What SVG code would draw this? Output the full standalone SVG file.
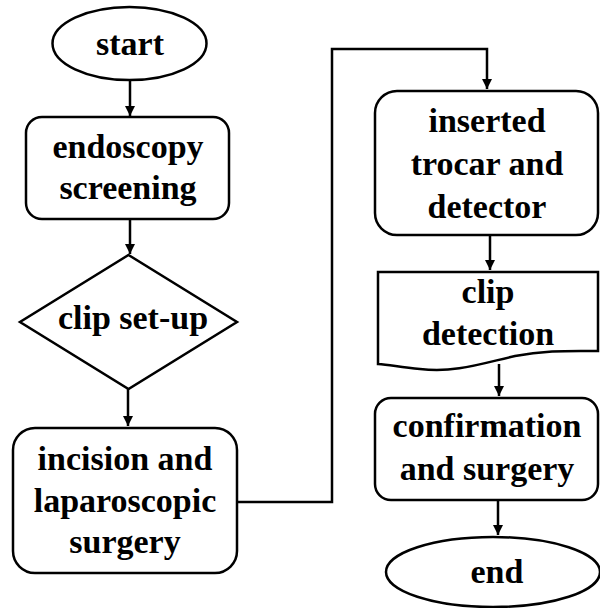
<svg xmlns="http://www.w3.org/2000/svg" width="600" height="608" viewBox="0 0 600 608">
<defs>
<marker id="ah" viewBox="0 0 10 10" refX="10" refY="5" markerWidth="10" markerHeight="10" markerUnits="userSpaceOnUse" orient="auto">
<path d="M0,0 L10,5 L0,10 z" fill="#000"/>
</marker>
<style>
.s{fill:#fff;stroke:#000;stroke-width:2.5}
.t{font-family:"Liberation Serif","Times New Roman",serif;font-weight:bold;font-size:34px;text-anchor:middle;fill:#000}
.c{fill:none;stroke:#000;stroke-width:2.5;marker-end:url(#ah)}
</style>
</defs>
<rect width="600" height="608" fill="#fff"/>
<g id="connectors">
<path class="c" d="M130,80 V116"/>
<path class="c" d="M130,219 V254"/>
<path class="c" d="M128,389 V426"/>
<path class="c" d="M237,502 H332 V49 H487 V89"/>
<path class="c" d="M490,235 V270"/>
<path class="c" d="M499,364 V396"/>
<path class="c" d="M498,500 V535"/>
</g>
<g id="start">
<ellipse class="s" cx="129.5" cy="43.5" rx="77" ry="36.5"/>
<text class="t" x="130" y="55">start</text>
</g>
<g id="endoscopy">
<rect class="s" x="26" y="117" width="203" height="102" rx="16"/>
<text class="t" x="128" y="158">endoscopy</text>
<text class="t" x="128" y="199">screening</text>
</g>
<g id="clipsetup">
<polygon class="s" points="128.5,255 237,322 128.5,389 20,322"/>
<text class="t" x="133" y="329">clip set-up</text>
</g>
<g id="incision">
<rect class="s" x="13" y="428" width="224" height="145" rx="22"/>
<text class="t" x="125" y="470">incision and</text>
<text class="t" x="125" y="512">laparoscopic</text>
<text class="t" x="125" y="553">surgery</text>
</g>
<g id="inserted">
<rect class="s" x="375" y="91" width="223" height="144" rx="22"/>
<text class="t" x="487" y="132">inserted</text>
<text class="t" x="487" y="175">trocar and</text>
<text class="t" x="487" y="218">detector</text>
</g>
<g id="detection">
<path class="s" d="M378,272 H598 V351 C570,351 545,350 515,356 C480,364 455,373 420,369 C400,367 390,365 378,364 Z"/>
<text class="t" x="488" y="303">clip</text>
<text class="t" x="488" y="345">detection</text>
</g>
<g id="confirmation">
<rect class="s" x="375" y="398" width="223" height="102" rx="16"/>
<text class="t" x="487" y="437">confirmation</text>
<text class="t" x="487" y="480">and surgery</text>
</g>
<g id="end">
<ellipse class="s" cx="493" cy="572" rx="107" ry="35"/>
<text class="t" x="497" y="583">end</text>
</g>
</svg>
